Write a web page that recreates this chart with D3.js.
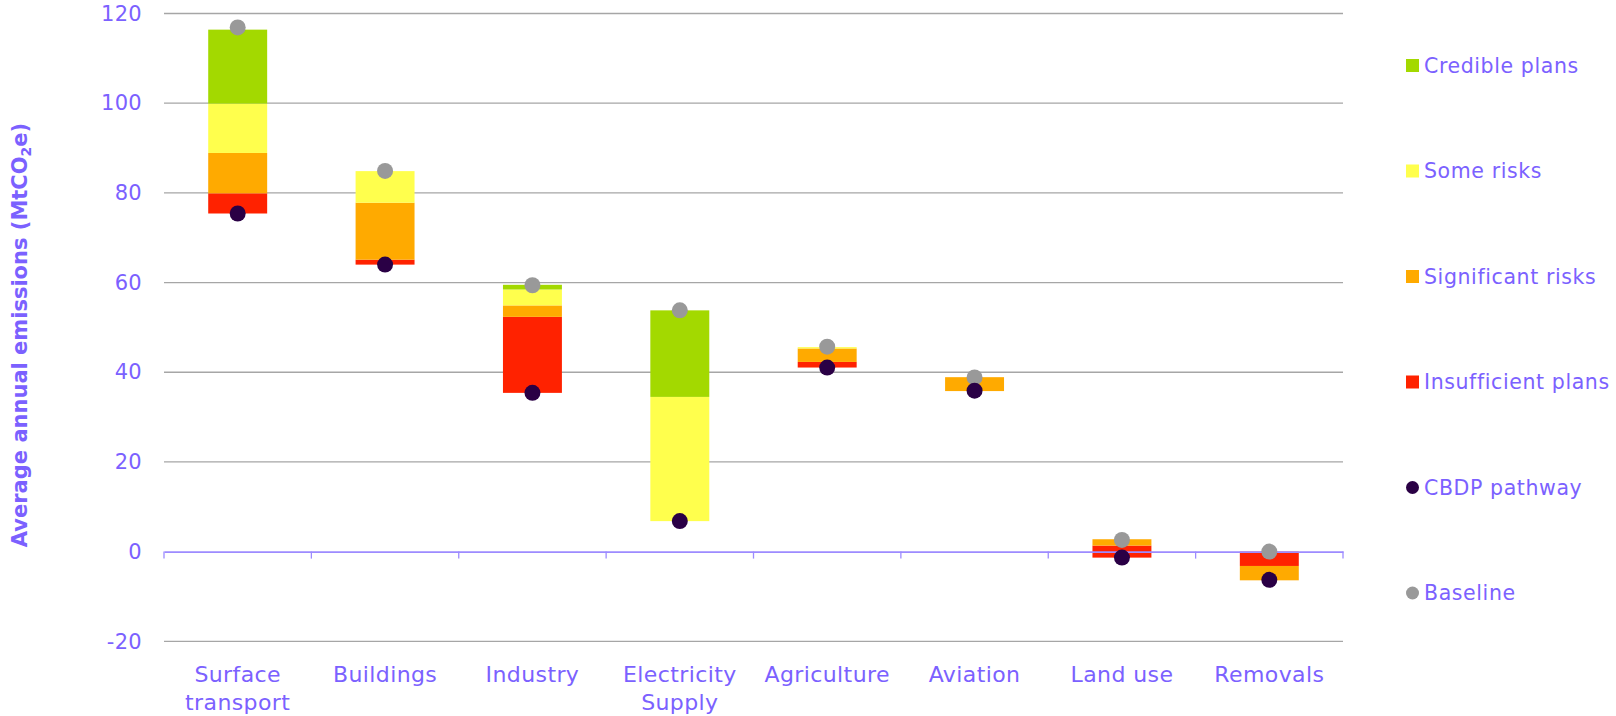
<!DOCTYPE html>
<html>
<head>
<meta charset="utf-8">
<script src="https://cdn.jsdelivr.net/npm/d3@7"></script>
<style>
  html, body { margin: 0; padding: 0; background: #ffffff; }
  svg { display: block; }
  text { font-family: "DejaVu Sans", "Noto Sans", sans-serif; fill: #7B61FF; }
</style>
</head>
<body>
<svg id="chart" width="1616" height="716"></svg>
<script>
// ---- data ----
const categories = ["Surface transport", "Buildings", "Industry", "Electricity Supply", "Agriculture", "Aviation", "Land use", "Removals"];
const categoryLines = [["Surface", "transport"], ["Buildings"], ["Industry"], ["Electricity", "Supply"], ["Agriculture"], ["Aviation"], ["Land use"], ["Removals"]];
// invisible offset where each stack starts
const stackBase = [75.4, 64.0, 35.4, 6.8, 41.05, 35.8, -1.34, 0];
// stacked segments (signed sizes), in stacking order
const insufficientPlans = [4.5, 1.1, 16.95, 0, 1.25, 0, 2.68, -3.2];
const significantRisks  = [9.0, 12.7, 2.55, 0, 3.0, 3.1, 1.42, -3.2];
const someRisks         = [11.0, 7.05, 3.55, 27.7, 0.3, 0, 0, 0];
const crediblePlans     = [16.5, 0, 1.05, 19.3, 0, 0, 0, 0];
// markers
const cbdpPathway = [75.4, 64.0, 35.4, 6.8, 41.05, 35.9, -1.34, -6.3];
const baseline    = [116.9, 84.9, 59.4, 53.8, 45.7, 38.85, 2.6, 0];
const yTicks = [-20, 0, 20, 40, 60, 80, 100, 120];

const seriesNames  = ["Insufficient plans", "Significant risks", "Some risks", "Credible plans"];
const seriesValues = [insufficientPlans, significantRisks, someRisks, crediblePlans];
const seriesColors = ["#FF2200", "#FFAA00", "#FFFF4D", "#A3D900"];
const legendItems = [
  {name: "Credible plans", type: "rect", color: "#A3D900"},
  {name: "Some risks", type: "rect", color: "#FFFF4D"},
  {name: "Significant risks", type: "rect", color: "#FFAA00"},
  {name: "Insufficient plans", type: "rect", color: "#FF2200"},
  {name: "CBDP pathway", type: "circle", color: "#2A0045"},
  {name: "Baseline", type: "circle", color: "#999999"}
];

// ---- layout ----
const svg = d3.select("#chart");
const plot = {left: 164, right: 1343, top: 13.5, bottom: 641.3};

const x = d3.scaleBand().domain(categories).range([plot.left, plot.right]).padding(0);
const y = d3.scaleLinear().domain([-20, 120]).range([plot.bottom, plot.top]);
const barW = x.bandwidth() * 0.4;

// gridlines
svg.append("g").selectAll("line")
  .data(yTicks.filter(d => d !== 0))
  .join("line")
  .attr("x1", plot.left).attr("x2", plot.right)
  .attr("y1", d => y(d)).attr("y2", d => y(d))
  .attr("stroke", "#A6A6A6").attr("stroke-width", 1.3);

// y tick labels
const yAxis = d3.axisLeft(y).tickValues(yTicks).tickSize(0).tickPadding(0).tickFormat(d => String(d));
const yg = svg.append("g").attr("transform", `translate(${plot.left - 22},0)`).call(yAxis);
yg.select(".domain").remove();
yg.selectAll("text").attr("font-size", 21).attr("fill", "#7B61FF").attr("font-family", "DejaVu Sans")
  .attr("letter-spacing", 0.3);

// stacked segments
const segs = [];
categories.forEach((c, i) => {
  let acc = stackBase[i];
  seriesValues.forEach((vals, s) => {
    const v = vals[i];
    if (v !== 0) segs.push({cat: c, s, y0: acc, y1: acc + v});
    acc += v;
  });
});
svg.append("g").selectAll("rect")
  .data(segs)
  .join("rect")
  .attr("x", d => x(d.cat) + (x.bandwidth() - barW) / 2)
  .attr("width", barW)
  .attr("y", d => y(Math.max(d.y0, d.y1)))
  .attr("height", d => Math.abs(y(d.y0) - y(d.y1)))
  .attr("fill", d => seriesColors[d.s]);

// zero axis line with ticks
const xAxis = d3.axisBottom(x).tickSize(0).tickFormat("");
const xg = svg.append("g").attr("transform", `translate(0,${y(0)})`).call(xAxis);
xg.select(".domain").attr("stroke", "#9D8BFF").attr("stroke-width", 1.6);
const boundaries = categories.map(c => x(c)).concat([x.range()[1]]);
xg.selectAll("line.bt").data(boundaries).join("line").attr("class", "bt")
  .attr("x1", d => d).attr("x2", d => d).attr("y1", 0).attr("y2", 7)
  .attr("stroke", "#9D8BFF").attr("stroke-width", 1.3);

// markers
const cx = c => x(c) + x.bandwidth() / 2;
svg.append("g").selectAll("circle")
  .data(categories)
  .join("circle")
  .attr("cx", cx).attr("cy", (c, i) => y(baseline[i])).attr("r", 8)
  .attr("fill", "#999999");
svg.append("g").selectAll("circle")
  .data(categories)
  .join("circle")
  .attr("cx", cx).attr("cy", (c, i) => y(cbdpPathway[i])).attr("r", 8)
  .attr("fill", "#2A0045");

// category labels
const lab = svg.append("g").selectAll("text")
  .data(categories)
  .join("text")
  .attr("text-anchor", "middle")
  .attr("font-size", 22)
  .attr("letter-spacing", 0.4);
lab.each(function(c, i) {
  const t = d3.select(this);
  categoryLines[i].forEach((ln, k) => {
    t.append("tspan").attr("x", cx(c)).attr("y", 682 + k * 28).text(ln);
  });
});

// y axis title
const title = svg.append("text")
  .attr("transform", `translate(27,335) rotate(-90)`)
  .attr("text-anchor", "middle")
  .attr("font-size", 21)
  .attr("font-weight", "bold");
title.append("tspan").text("Average annual emissions (MtCO");
title.append("tspan").attr("font-size", 14).attr("dy", 4).text("2");
title.append("tspan").attr("dy", -4).text("e)");

// legend
const lg = svg.append("g").selectAll("g")
  .data(legendItems)
  .join("g")
  .attr("transform", (d, i) => `translate(1406,${65.5 + i * 105.5})`);
lg.filter(d => d.type === "rect").append("rect")
  .attr("x", 0).attr("y", -6.5).attr("width", 13).attr("height", 13)
  .attr("fill", d => d.color);
lg.filter(d => d.type === "circle").append("circle")
  .attr("cx", 6.5).attr("cy", 0).attr("r", 6.5)
  .attr("fill", d => d.color);
lg.append("text")
  .attr("x", 18).attr("y", 0).attr("dy", "0.36em")
  .attr("font-size", 20.5)
  .attr("letter-spacing", 0.6)
  .text(d => d.name);
</script>
</body>
</html>
